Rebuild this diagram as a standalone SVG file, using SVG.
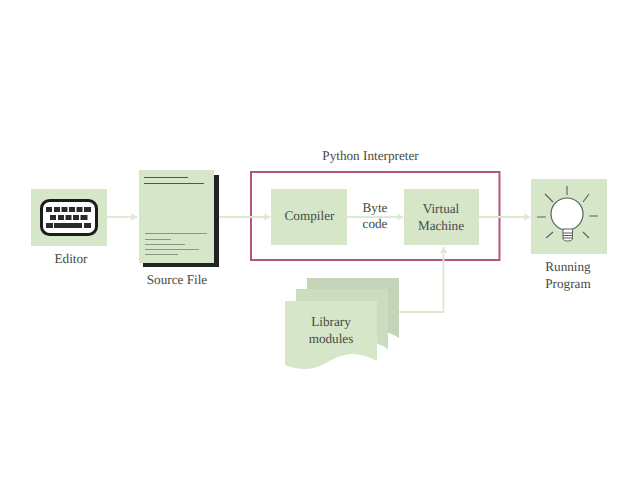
<svg xmlns="http://www.w3.org/2000/svg" width="638" height="479" viewBox="0 0 638 479">
<defs>
<style>
text{font-family:"Liberation Serif","Times New Roman",serif;font-size:13.2px;fill:#454a45;text-anchor:middle;text-rendering:geometricPrecision}
.box{fill:#d6e6c9}
.conn{fill:none;stroke:#dde9d3;stroke-width:1.8}
.doc{stroke:#8a9583;stroke-width:1}
.ray{stroke:#5a5f58;stroke-width:1.1;fill:none}
</style>
<marker id="arrow" markerWidth="8" markerHeight="8" refX="6.500" refY="4" orient="auto" markerUnits="userSpaceOnUse"><path d="M0 0L7 4L0 8L1.500 4Z" fill="#dde9d3"/></marker>
</defs>
<rect width="638" height="479" fill="#fff"/>
<g id="python-interpreter">
<rect x="251" y="172" width="248.500" height="88" fill="#fff" stroke="#b5547c" stroke-width="2"/>
<text x="370.500" y="160">Python Interpreter</text>
</g>
<g id="connectors">
<path class="conn" d="M107 217H137" marker-end="url(#arrow)"/>
<path class="conn" d="M219 217H270" marker-end="url(#arrow)"/>
<path class="conn" d="M347 217H403" marker-end="url(#arrow)"/>
<path class="conn" d="M479 217H530" marker-end="url(#arrow)"/>
<path class="conn" d="M399 312H443.500V247" marker-end="url(#arrow)"/>
</g>
<g id="editor">
<rect class="box" x="31" y="189" width="76" height="57"/>
<rect x="41.500" y="200.500" width="55" height="34" rx="8" fill="#fff" stroke="#1c1c1c" stroke-width="3"/>
<g fill="#2a2a2a">
<rect x="46" y="207" width="6" height="5"/><rect x="54" y="207" width="6" height="5"/><rect x="61.500" y="207" width="6" height="5"/><rect x="69" y="207" width="6" height="5"/><rect x="76.500" y="207" width="6" height="5"/><rect x="84" y="207" width="7" height="5"/>
<rect x="50" y="215" width="6" height="5"/><rect x="58" y="215" width="6" height="5"/><rect x="65.500" y="215" width="6" height="5"/><rect x="73" y="215" width="6" height="5"/><rect x="80.500" y="215" width="7" height="5"/>
<rect x="46" y="223" width="7" height="5"/><rect x="54" y="223" width="28" height="5"/><rect x="84" y="223" width="7" height="5"/>
</g>
<text x="71" y="263">Editor</text>
</g>
<g id="source-file">
<rect x="143" y="175" width="76" height="92" fill="#222"/>
<rect class="box" x="139" y="170" width="75" height="93"/>
<path d="M144 177.500H188M144 183.500H204" stroke="#4d5a48" stroke-width="1"/>
<path class="doc" d="M145 233.500H207M145 239.500H171M145 244.500H185M145 249.500H199M145 254.500H178"/>
<text x="177" y="284">Source File</text>
</g>
<g id="compiler">
<rect class="box" x="271" y="189" width="76" height="56"/>
<text x="309.500" y="220">Compiler</text>
</g>
<g id="byte-code">
<text x="375" y="212">Byte</text>
<text x="375" y="228">code</text>
</g>
<g id="virtual-machine">
<rect class="box" x="404" y="189" width="75" height="56"/>
<text x="441" y="213">Virtual</text>
<text x="441" y="230">Machine</text>
</g>
<g id="library-modules">
<path fill="#c5d4b8" d="M307 278H399V338Q385 329 372 330L340 340L307 330Z"/>
<path fill="#ccdcbe" d="M296 289H388V349Q374 340 361 341L329 351L296 341Z"/>
<path class="box" d="M285 301H377V361Q362 353 350 354C330 357 322 369 306 369Q294 369 285 365Z"/>
<text x="331" y="326">Library</text>
<text x="331" y="343">modules</text>
</g>
<g id="running-program">
<rect class="box" x="531" y="179" width="76" height="75"/>
<circle cx="567" cy="214" r="16" fill="#fff" stroke="#5a5f58" stroke-width="1.2"/>
<path d="M563 229H572.500V238Q572.500 241 567.500 241Q563 241 563 238Z" fill="#fff" stroke="#5a5f58" stroke-width="1"/>
<path class="ray" d="M563 233H572.500M563 235.500H572.500M563 238H572.500"/>
<path class="ray" d="M567 186V195M545 194L553 202M589 194L583 202M537 217H546M589 216H598M546 238L553 232M589 238L583 232"/>
<text x="568" y="271">Running</text>
<text x="568" y="288">Program</text>
</g>
</svg>
